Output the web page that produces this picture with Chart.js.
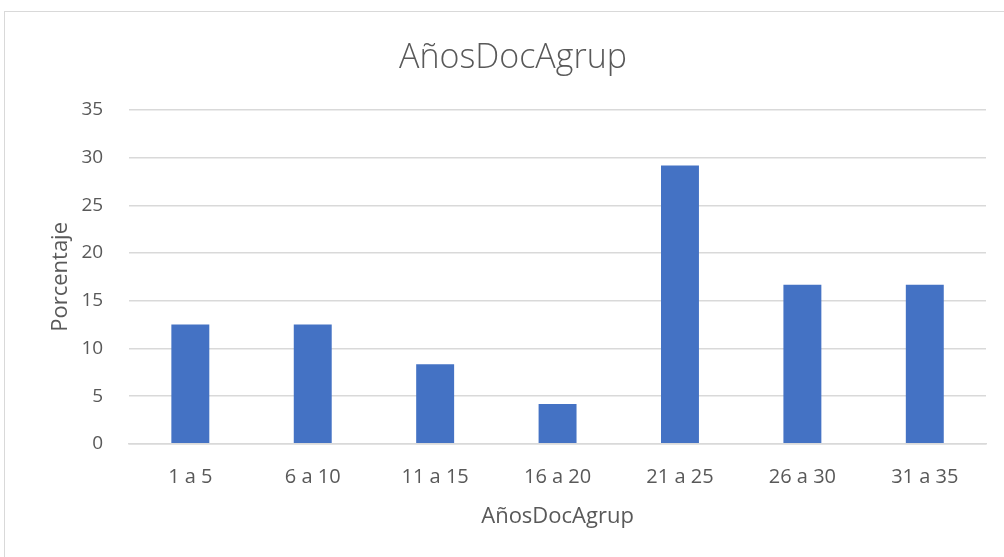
<!DOCTYPE html>
<html>
<head>
<meta charset="utf-8">
<script src="https://cdn.jsdelivr.net/npm/chart.js@4"></script>
<style>
  body { margin: 0; background: #fff; }
  #frame { position: absolute; left: 4px; top: 11px; width: 1100px; height: 600px; border: 1px solid #d9d9d9; }
  #wrap { position: absolute; left: 0; top: 0; width: 1004px; height: 557px; }
</style>
</head>
<body>
<div id="frame"></div>
<div id="wrap"><canvas id="myChart"></canvas></div>
<script>
var categories = ['1 a 5', '6 a 10', '11 a 15', '16 a 20', '21 a 25', '26 a 30', '31 a 35'];
var porcentaje = [12.5, 12.5, 8.33, 4.17, 29.17, 16.67, 16.67];
var yTicks = [0, 5, 10, 15, 20, 25, 30, 35];

var textColor = '#595959';
var fontFam = "'Open Sans', sans-serif";

var ctx = document.getElementById('myChart').getContext('2d');

var myChart = new Chart(ctx, {
  type: 'bar',
  data: {
    labels: categories,
    datasets: [{
      label: 'Porcentaje',
      data: porcentaje,
      backgroundColor: '#4472c4',
      categoryPercentage: 1,
      barPercentage: 0.31
    }]
  },
  options: {
    responsive: true,
    maintainAspectRatio: false,
    animation: false,
    layout: { padding: { left: 40, right: 18, top: 0, bottom: 27 } },
    plugins: {
      legend: { display: false },
      tooltip: { enabled: false },
      title: {
        display: true,
        text: 'AñosDocAgrup',
        color: textColor,
        font: { family: fontFam, size: 34, weight: 300 },
        padding: { top: 37.6, bottom: 31.6 }
      }
    },
    scales: {
      x: {
        grid: { display: false, drawTicks: false },
        border: { display: true, color: '#d9d9d9', width: 1.5 },
        ticks: { color: textColor, font: { family: fontFam, size: 20 }, padding: 21, maxRotation: 0 },
        title: { display: true, text: 'AñosDocAgrup', color: textColor, font: { family: fontFam, size: 22 }, padding: { top: -6.2, bottom: 0 } }
      },
      y: {
        min: 0,
        max: 35,
        afterBuildTicks: function(axis) { axis.ticks = yTicks.map(function(v) { return { value: v }; }); },
        grid: { color: '#d9d9d9', lineWidth: 1.5, drawTicks: false },
        border: { display: false },
        ticks: { color: textColor, font: { family: fontFam, size: 19 }, padding: 26 },
        title: { display: true, text: 'Porcentaje', color: textColor, font: { family: fontFam, size: 22 }, padding: { top: 8, bottom: -19 } }
      }
    }
  }
});
</script>
</body>
</html>
